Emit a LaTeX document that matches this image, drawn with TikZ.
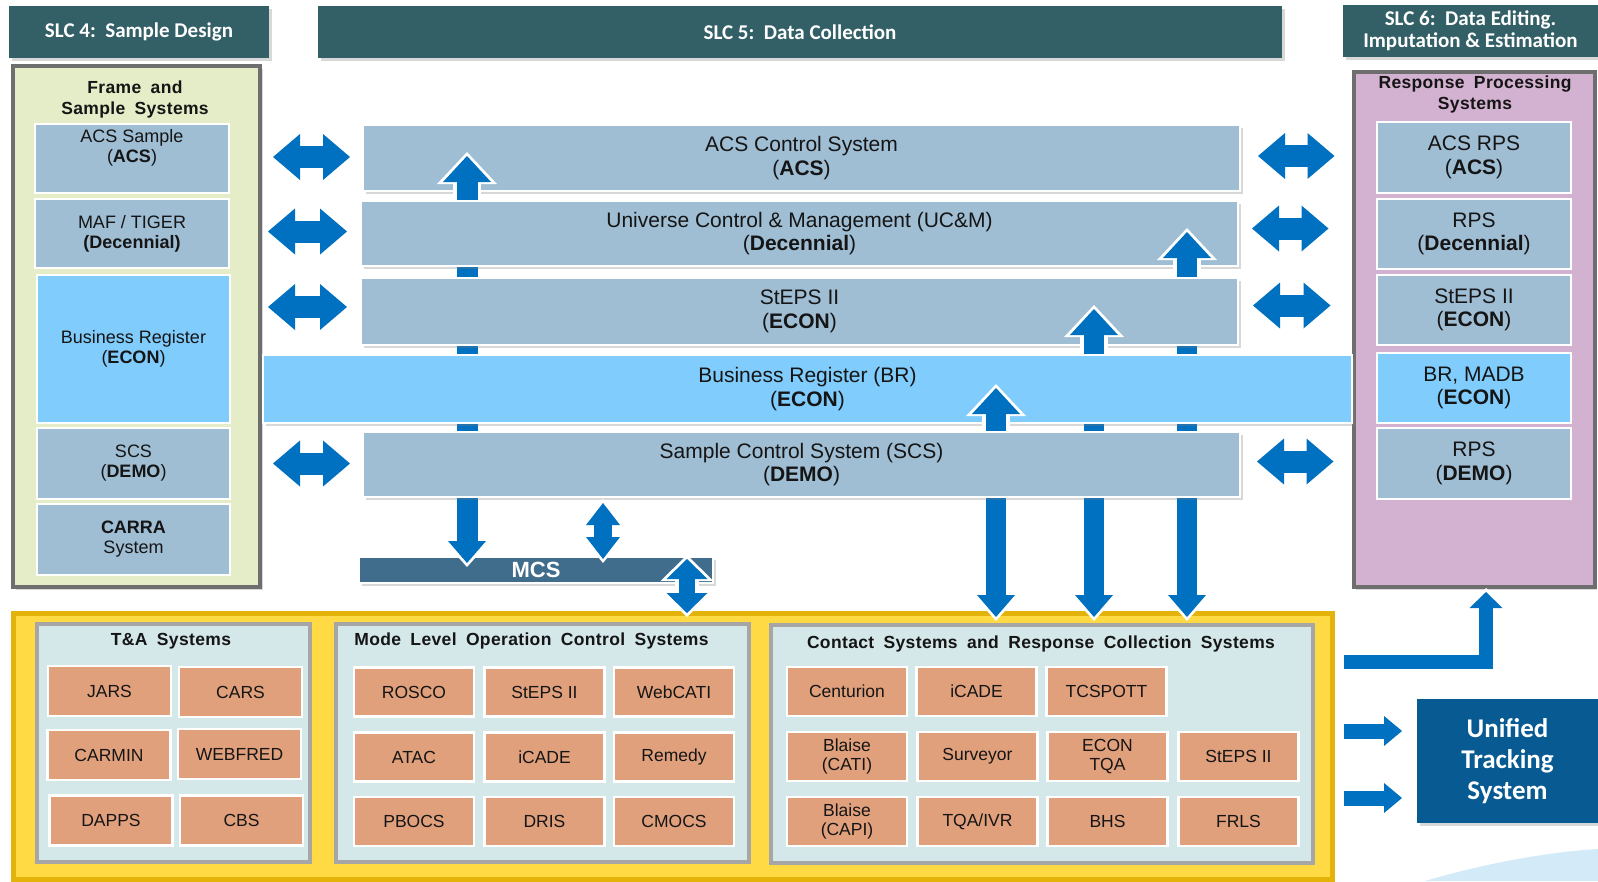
\documentclass[tikz,border=0pt]{standalone}
\usepackage{fontspec}
\setmainfont{Liberation Sans}
\newfontfamily\calibri{Carlito}
\newfontfamily\titlefont[WordSpace=1.8,LetterSpace=2]{Liberation Sans}
\usetikzlibrary{arrows.meta,shadows}
\definecolor{hdr}{HTML}{335F66}
\definecolor{barc}{HTML}{9FBDD3}
\definecolor{lblue}{HTML}{80CCFC}
\definecolor{arr}{HTML}{0070C0}
\definecolor{grn}{HTML}{E4EDC8}
\definecolor{pur}{HTML}{D3B1D0}
\definecolor{yel}{HTML}{FFDA45}
\definecolor{yeledge}{HTML}{E3B30A}
\definecolor{pnl}{HTML}{D4E7E9}
\definecolor{pnledge}{HTML}{A6A6A6}
\definecolor{sal}{HTML}{E1A07C}
\definecolor{mcsc}{HTML}{416D8D}
\definecolor{utsc}{HTML}{075A92}
\definecolor{frm}{HTML}{6E6E6E}
\definecolor{txt}{HTML}{151515}
\definecolor{swoosh}{HTML}{D3EBF8}
\tikzset{
  wh/.style 2 args={minimum width=#1pt, minimum height=#2pt},
  shad/.style={drop shadow={opacity=0.3, shadow xshift=2.5pt, shadow yshift=-2.5pt}},
  hdrbox/.style={fill=hdr, text=white, font=\calibri\bfseries\fontsize{21}{22}\selectfont, align=center, shad},
  bigframe/.style={draw=frm, line width=4pt, shad},
  ttl/.style={font=\titlefont\bfseries\fontsize{17.5}{21}\selectfont, text=txt, align=center},
  lbox/.style={fill=barc, draw=white, line width=2.5pt, text=txt, align=center, font=\fontsize{18}{20}\selectfont},
  ltext/.style={text=txt, align=center, font=\fontsize{18}{20}\selectfont},
  rbox/.style={fill=barc, draw=white, line width=2.5pt, text=txt, align=center, font=\fontsize{21}{23.5}\selectfont},
  barbox/.style={fill=barc, draw=white, line width=2.5pt, text=txt, align=center, font=\fontsize{21}{23.5}\selectfont, shad},
  pnlbox/.style={fill=pnl, draw=pnledge, line width=3.5pt},
  sbox/.style={fill=sal, draw=white, line width=2.5pt, text=txt, align=center, font=\fontsize{17.5}{19.5}\selectfont, wh={120}{49}},
  hda/.style={draw=arr, line width=22pt,
    arrows={{Triangle[length=27pt,width=46pt,line width=0pt]}-{Triangle[length=27pt,width=46pt,line width=0pt]}},
    preaction={draw=white, line width=30pt, shorten <=-4pt, shorten >=-4pt,
      arrows={{Triangle[length=33pt,width=58pt,line width=0pt]}-{Triangle[length=33pt,width=58pt,line width=0pt]}}}},
  vbig/.style={draw=arr, line width=20pt,
    arrows={{Triangle[length=26pt,width=48pt,line width=0pt]}-{Triangle[length=22pt,width=38pt,line width=0pt]}},
    preaction={draw=white, line width=28pt, shorten <=-4pt, shorten >=-4pt,
      arrows={{Triangle[length=32pt,width=60pt,line width=0pt]}-{Triangle[length=28pt,width=50pt,line width=0pt]}}}},
  vsmall/.style={draw=arr, line width=18pt,
    arrows={{Triangle[length=22pt,width=34pt,line width=0pt]}-{Triangle[length=22pt,width=34pt,line width=0pt]}},
    preaction={draw=white, line width=26pt, shorten <=-4pt, shorten >=-4pt,
      arrows={{Triangle[length=28pt,width=46pt,line width=0pt]}-{Triangle[length=28pt,width=46pt,line width=0pt]}}}},
  vmcs/.style={draw=arr, line width=16pt,
    arrows={{Triangle[length=20pt,width=41pt,line width=0pt]}-{Triangle[length=20pt,width=41pt,line width=0pt]}},
    preaction={draw=white, line width=24pt, shorten <=-4pt, shorten >=-4pt,
      arrows={{Triangle[length=26pt,width=53pt,line width=0pt]}-{Triangle[length=26pt,width=53pt,line width=0pt]}}}},
  rsa/.style={draw=arr, line width=15pt,
    arrows={-{Triangle[length=18pt,width=30pt,line width=0pt]}},
    preaction={draw=white, line width=23pt, shorten <=-4pt, shorten >=-4pt,
      arrows={-{Triangle[length=24pt,width=42pt,line width=0pt]}}}},
  elb/.style={draw=arr, line width=14pt, line join=miter,
    arrows={-{Triangle[length=16pt,width=33pt,line width=0pt]}},
    preaction={draw=white, line width=22pt, line join=miter, shorten <=-4pt, shorten >=-4pt,
      arrows={-{Triangle[length=22pt,width=45pt,line width=0pt]}}}},
}
\begin{document}
\begin{tikzpicture}[x=1pt, y=-1pt, inner sep=0pt, outer sep=0pt]
\useasboundingbox (0,0) rectangle (1598,881);
\fill[white] (0,0) rectangle (1598,881);
\fill[swoosh] (1425,881) .. controls (1490,862) and (1550,852) .. (1598,849) -- (1598,881) -- cycle;

% coordinates for arrow columns and rows
\coordinate (v1) at (467,0);
\coordinate (v2) at (996,0);
\coordinate (v3) at (1094,0);
\coordinate (v4) at (1187,0);
\coordinate (v5) at (603,0);
\coordinate (v6) at (687,0);
\coordinate (u1) at (0,731);
\coordinate (u2) at (0,798);
\coordinate (e1) at (1486,662);

% headers
\node[hdrbox, wh={260}{52}] (h4) at (139,32) {SLC 4:\ \ Sample Design};
\node[hdrbox, wh={964}{52}] (h5) at (800,32) {SLC 5:\ \ Data Collection};
\node[hdrbox, wh={255}{52}] (h6) at (1470.5,31) {SLC 6:\ \ Data Editing.\\Imputation \& Estimation};

% left frame
\node[bigframe, fill=grn, wh={247}{521}] (lf) at (136.5,326.5) {};
\node[ttl] (lft) at (135,99.5) {Frame and\\Sample Systems};
\node[lbox, wh={194}{69}] (acss) at (132,158.5) {};
\node[ltext] (acsst) at (132,148) {ACS Sample\\(\textbf{ACS})};
\node[lbox, wh={194}{69}] (maf) at (132,233.5) {MAF / TIGER\\\textbf{(Decennial)}};
\node[lbox, fill=lblue, wh={193}{148}] (brl) at (133.5,349) {Business Register\\(\textbf{ECON})};
\node[lbox, wh={193}{71}] (scsl) at (133.5,463.5) {SCS\\(\textbf{DEMO})};
\node[lbox, wh={193}{71}] (carra) at (133.5,539.5) {\textbf{CARRA}\\System};

% right frame
\node[bigframe, fill=pur, wh={241}{515}] (rp) at (1474,329.5) {};
\node[ttl] (rpt) at (1475,94.5) {Response Processing\\Systems};
\node[rbox, wh={194}{71}] (acsr) at (1474,157.5) {ACS RPS\\(\textbf{ACS})};
\node[rbox, wh={194}{70}] (rpsd) at (1474,234) {RPS\\(\textbf{Decennial})};
\node[rbox, wh={194}{70}] (stepsr) at (1474,310) {StEPS II\\(\textbf{ECON})};
\node[rbox, fill=lblue, wh={194}{70}] (brr) at (1474,388) {BR, MADB\\(\textbf{ECON})};
\node[rbox, wh={194}{71}] (rpsdemo) at (1474,463.5) {RPS\\(\textbf{DEMO})};

% bottom yellow area
\node[fill=yel, draw=yeledge, line width=5pt, wh={1319}{266}, shad] (ybox) at (672.5,746) {};
\node[pnlbox, wh={273}{238}] (ta) at (173.5,743) {};
\node[pnlbox, wh={413}{238}] (ml) at (542.5,743) {};
\node[pnlbox, wh={542}{238}] (cs) at (1042,744) {};
\node[ttl] (tat) at (171,641) {T\&A Systems};
\node[ttl] (mlt) at (531.5,641) {Mode Level Operation Control Systems};
\node[ttl] (cst) at (1041,644) {Contact Systems and Response Collection Systems};

\node[sbox, wh={123}{50}] (jars) at (109.5,691) {JARS};
\node[sbox, wh={123}{50}] (cars) at (240.5,692) {CARS};
\node[sbox, wh={123}{50}] (carmin) at (109,755) {CARMIN};
\node[sbox, wh={123}{50}] (webfred) at (239.5,754) {WEBFRED};
\node[sbox, wh={123}{50}] (dapps) at (111,820.5) {DAPPS};
\node[sbox, wh={123}{50}] (cbs) at (241.5,820.5) {CBS};

\node[sbox] (rosco) at (414,692) {ROSCO};
\node[sbox] (steps2) at (544.5,692) {StEPS II};
\node[sbox] (webcati) at (674,692) {WebCATI};
\node[sbox] (atac) at (414,757) {ATAC};
\node[sbox] (icade) at (544.5,757) {iCADE};
\node[sbox] (remedy) at (674,757) {Remedy};
\node[sbox] (pbocs) at (414,821.5) {PBOCS};
\node[sbox] (dris) at (544.5,821.5) {DRIS};
\node[sbox] (cmocs) at (674,821.5) {CMOCS};

\node[sbox] (centurion) at (847,691.5) {Centurion};
\node[sbox] (icade2) at (976.5,691.5) {iCADE};
\node[sbox] (tcspott) at (1106.5,691.5) {TCSPOTT};
\node[sbox] (bcati) at (847,756.5) {Blaise\\(CATI)};
\node[sbox] (surveyor) at (977.5,756.5) {Surveyor};
\node[sbox] (econtqa) at (1107.5,756.5) {ECON\\TQA};
\node[sbox] (steps3) at (1238.5,756.5) {StEPS II};
\node[sbox] (bcapi) at (847,821.5) {Blaise\\(CAPI)};
\node[sbox] (tqaivr) at (977.5,821.5) {TQA/IVR};
\node[sbox] (bhs) at (1107.5,821.5) {BHS};
\node[sbox] (frls) at (1238.5,821.5) {FRLS};

% MCS
\node[fill=mcsc, draw=white, line width=2pt, wh={354}{26}, text=white, font=\bfseries\fontsize{22}{24}\selectfont, shad] (mcs) at (536,570) {MCS};

% Unified Tracking System
\node[fill=utsc, wh={181}{124}, text=white, font=\calibri\bfseries\fontsize{27}{31}\selectfont, align=center, shad] (uts) at (1507.5,761) {Unified\\Tracking\\System};

% central bars with the vertical arrows interleaved
\node[barbox, wh={877}{66}] (acs) at (801.5,158) {ACS Control System\\(\textbf{ACS})};
\draw[vbig, line width=21pt] ([yshift=2pt]acs.center -| v1) -- ([yshift=-6pt]mcs.north -| v1);
\node[barbox, wh={877}{65}] (ucm) at (799.5,233.5) {Universe Control \& Management (UC\&M)\\(\textbf{Decennial})};
\draw[vbig] ([yshift=1.5pt]ucm.center -| v4) -- ([yshift=-4pt]ybox.north -| v4);
\node[barbox, wh={877}{67}] (steps) at (799.5,311.5) {StEPS II\\(\textbf{ECON})};
\draw[vbig] ([yshift=2.5pt]steps.center -| v3) -- ([yshift=-4pt]ybox.north -| v3);
\node[barbox, fill=lblue, wh={1089}{68}] (br) at (807.5,389) {Business Register (BR)\\(\textbf{ECON})};
\draw[vbig] ([yshift=1pt]br.center -| v2) -- ([yshift=-4pt]ybox.north -| v2);
\node[barbox, wh={877}{65}] (scs) at (801.5,464.5) {Sample Control System (SCS)\\(\textbf{DEMO})};

% small vertical arrows around MCS
\draw[vsmall] ([yshift=-6pt]scs.south -| v5) -- ([yshift=-2pt]mcs.north -| v5);
\draw[vmcs] ([yshift=-2pt]mcs.north -| v6) -- (ybox.north -| v6);

% left horizontal double arrows
\draw[hda] ([xshift=13pt,yshift=1pt]lf.east |- acs.west) -- ([xshift=-13pt,yshift=1pt]acs.west);
\draw[hda] ([xshift=8pt,yshift=2pt]lf.east |- ucm.west) -- ([xshift=-14pt,yshift=2pt]ucm.west);
\draw[hda] ([xshift=8pt,yshift=4.5pt]lf.east |- steps.west) -- ([xshift=-14pt,yshift=4.5pt]steps.west);
\draw[hda] ([xshift=13pt,yshift=1pt]lf.east |- scs.west) -- ([xshift=-13pt,yshift=1pt]scs.west);

% right horizontal double arrows
\draw[hda] ([xshift=18pt,yshift=2pt]acs.east) -- ([xshift=-19pt,yshift=2pt]rp.west |- acs.east);
\draw[hda] ([xshift=14pt,yshift=5pt]ucm.east) -- ([xshift=-25pt,yshift=5pt]rp.west |- ucm.east);
\draw[hda] ([xshift=15pt,yshift=6pt]steps.east) -- ([xshift=-23pt,yshift=6pt]rp.west |- steps.east);
\draw[hda] ([xshift=17pt,yshift=3pt]scs.east) -- ([xshift=-20pt,yshift=3pt]rp.west |- scs.east);

% arrows on the lower right
\draw[elb] ([xshift=12pt]ybox.east |- e1) -| ([yshift=-5pt]rp.south -| e1);
\draw[rsa] ([xshift=12pt]ybox.east |- u1) -- ([xshift=-15pt]uts.west |- u1);
\draw[rsa] ([xshift=12pt]ybox.east |- u2) -- ([xshift=-15pt]uts.west |- u2);
\end{tikzpicture}
\end{document}
